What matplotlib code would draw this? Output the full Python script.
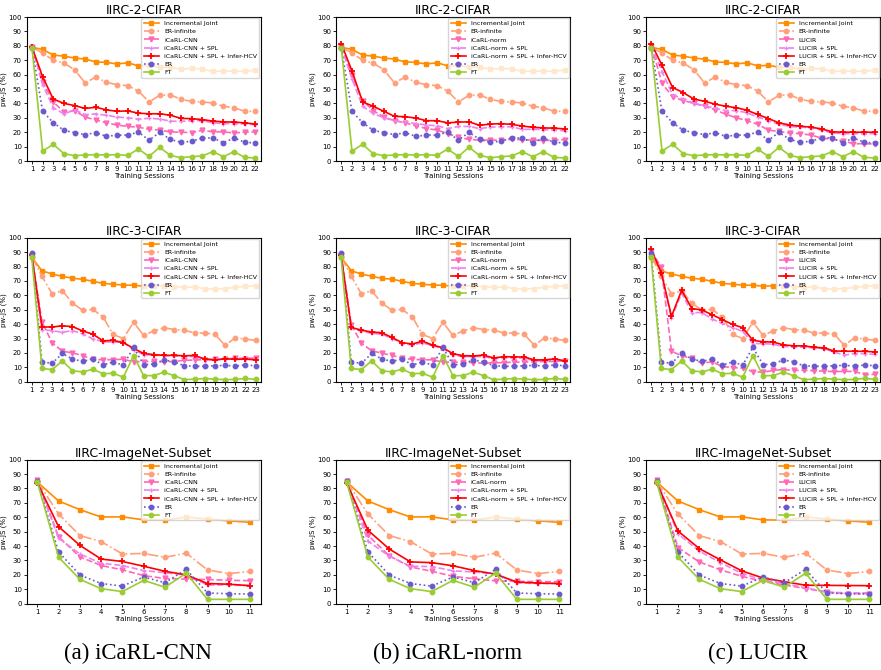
import matplotlib.pyplot as plt

# ---- data ----
# shared baselines, IIRC-2-CIFAR (22 sessions)
joint_2 = [79, 77.5, 73.6, 72.8, 71.5, 70.8, 68.8, 68.5, 67.4, 68.2, 66.1, 66.4, 65.2, 65, 63.8, 64.3, 64, 62.2, 62.5, 62.4, 62.2, 63.1]
erinf_2 = [79, 75, 70, 68, 63.4, 54.2, 58.3, 54.6, 53, 52.3, 48.6, 41, 45.6, 46, 42.8, 41.4, 41, 40.3, 38, 37, 34.5, 34.5]
er_2 = [78.5, 34.5, 26.6, 21.3, 19.7, 18.3, 19.7, 17.1, 18, 18, 20.1, 14.4, 19.9, 15, 13, 13.7, 16, 16, 12.7, 16, 13, 12.5]
ft_2 = [78.5, 6.9, 11.6, 5.1, 3.7, 4.2, 4.4, 4.2, 4.4, 3.9, 8.3, 3.2, 9.5, 3.9, 2.3, 3, 3.5, 6.5, 3, 6.5, 2.5, 2.1]

# shared baselines, IIRC-3-CIFAR (23 sessions)
joint_3 = [86.5, 77, 74.8, 73.2, 71.8, 71.2, 69.7, 68.3, 67.7, 67.1, 67, 66.3, 66.6, 66.6, 66, 65.5, 65.8, 64.6, 64.3, 64.7, 65.5, 66.2, 66.6]
erinf_3 = [87, 73.2, 61, 63.2, 54.6, 49.6, 50.2, 45, 32.8, 30, 41.3, 32.1, 35.3, 37.5, 36.2, 35.8, 33.8, 33.8, 33, 25.2, 30.5, 29.6, 28.7]
er_3 = [89.5, 13.8, 12.7, 19.6, 15.8, 14.1, 15.8, 11.6, 13.7, 11.5, 23.8, 11.8, 12.2, 15.2, 13.7, 11.1, 10.7, 10.7, 11.1, 11.3, 10.9, 11.6, 11.1]
ft_3 = [86.3, 9.2, 8.4, 14.5, 7.6, 6.8, 8.7, 5.5, 5.9, 3.1, 18.1, 4.1, 4.3, 6.6, 4.2, 1.4, 1.8, 2.2, 1.8, 1.4, 1.6, 2.3, 1.6]

# shared baselines, IIRC-ImageNet-Subset (11 sessions)
joint_in = [84.5, 71.3, 65.3, 60.2, 60.3, 58.2, 58, 60.2, 58.8, 57.5, 56.5]
erinf_in = [85, 62.3, 47.3, 43.1, 34.5, 34.9, 32.2, 35.1, 23.4, 20.9, 22.4]
er_in = [85, 36, 19.9, 14, 12.2, 18.5, 14.6, 23.8, 7.4, 6.9, 6.7]
ft_in = [84.5, 32.3, 16.9, 10.4, 8.4, 16.2, 11.4, 21.2, 3, 3, 3]

# iCaRL-CNN
cnn_2 = [79, 55, 41, 34, 35, 30.5, 28.5, 26.5, 25, 24, 23.5, 22, 21.5, 20.2, 20, 19.7, 21.3, 20.3, 20.2, 19.5, 20, 20.2]
cnn_spl_2 = [79, 53, 37, 32.7, 35.5, 32.2, 32.7, 31.8, 30.5, 30, 29, 29.7, 29.2, 27.7, 27.5, 28, 28, 26.5, 26, 26, 25.7, 25.3]
cnn_hcv_2 = [79, 58.5, 43, 40, 38.5, 36.5, 37.3, 35.5, 34.5, 34.8, 33.2, 32.8, 32.8, 31.8, 29.6, 29.4, 28.8, 27.7, 27.2, 27, 26.5, 25.7]
cnn_3 = [88, 41.5, 27.1, 21.2, 20, 18.1, 15.5, 15.2, 15.3, 15.6, 13.8, 14, 14.2, 13.8, 14, 14.9, 15, 15.4, 15.7, 15.8, 16.3, 16.1, 16.5]
cnn_spl_3 = [88, 36, 35.5, 34.3, 35.5, 33.2, 29.7, 27.8, 27.5, 27.5, 22, 18.8, 18.5, 18, 18, 17.5, 17.5, 16, 15.5, 15.5, 16, 16, 16]
cnn_hcv_3 = [88, 38, 38, 38.8, 38.3, 35.2, 33, 28.4, 28.7, 27.1, 23.2, 19.6, 18.8, 18.3, 18.3, 18, 18.2, 15.7, 15, 16, 15.5, 15.7, 15.2]
cnn_in = [86, 46.5, 32.5, 26.5, 23.5, 19.5, 17.5, 17, 16.8, 16.2, 16]
cnn_spl_in = [85, 45.5, 34.5, 28, 26.5, 23, 21.5, 20, 13, 13, 12.5]
cnn_hcv_in = [84, 53.5, 40.5, 31, 29.3, 26, 22.5, 20, 14, 13.5, 12.5]

# iCaRL-norm
norm_2 = [79, 60, 42, 35, 30.5, 28, 26.5, 24.5, 22.5, 21.5, 19, 16.5, 15, 14.5, 14.5, 14.5, 15, 14.8, 14.5, 14.2, 14.5, 14.8]
norm_spl_2 = [79, 57, 38, 33, 30, 28, 27, 26, 25, 24.5, 22.5, 24, 24, 22.5, 23.5, 23.8, 23.7, 22, 22, 21.8, 21.5, 21]
norm_hcv_2 = [81.5, 62.5, 41, 38, 34.5, 31, 30.8, 29.8, 28, 28, 26.5, 27, 27.2, 24.8, 25.6, 26, 25.4, 24.3, 23.4, 23, 22.8, 22.3]
norm_3 = [88, 39.5, 26.7, 21.5, 19.8, 18.3, 16.3, 15.5, 15.2, 15.2, 13.6, 13.6, 13.5, 13.2, 12.8, 13.2, 13.2, 13.6, 13.6, 13.8, 14, 14, 14.6]
norm_spl_3 = [88, 37.5, 35, 33.5, 33, 30, 26.5, 25.5, 27, 25, 23, 18.5, 17.5, 17.5, 17.5, 16, 16.5, 16.5, 16.5, 14.5, 14.5, 15, 14]
norm_hcv_3 = [88, 37.7, 35.8, 34.5, 34, 30.7, 27.1, 26.2, 28.1, 25.4, 23.6, 19.4, 18.1, 17.9, 18.4, 16.5, 17.4, 17.2, 17.2, 15.1, 15.2, 15.8, 14.5]
norm_in = [85, 47.5, 33.3, 25.5, 22.5, 19, 17.3, 15.8, 15.5, 15.3, 15.3]
norm_spl_in = [85, 43.5, 33, 26, 25.8, 22.8, 22, 20.5, 14.5, 14, 14]
norm_hcv_in = [84, 51, 38, 29, 28.5, 26.3, 23, 20.5, 15, 14.3, 14]

# LUCIR
lucir_2 = [80, 54, 44.5, 42, 40, 38, 35.5, 32.5, 30, 28, 25.5, 21.5, 20.5, 19.5, 19, 18, 16, 15, 14, 12, 12, 11.8]
lucir_spl_2 = [80, 62, 46, 43, 40, 38.5, 36.5, 35, 35, 33.5, 30.5, 28, 25.5, 24, 23.5, 23, 21.5, 19.5, 19, 19, 19, 19]
lucir_hcv_2 = [81.5, 66.5, 51, 47.5, 43, 41.5, 39.5, 38, 37, 35.2, 32.3, 29.5, 26.5, 25, 24.2, 23.5, 22.3, 20.3, 20, 20, 20, 20]
lucir_3 = [91, 79.5, 21.3, 17.8, 16.4, 12.8, 13.9, 10.5, 9.8, 9.4, 7, 6.5, 7.9, 8.4, 7.9, 7.9, 7.6, 7.3, 7, 7.2, 7.1, 4.9, 5.1]
lucir_spl_3 = [91, 76, 44, 61.5, 48, 48, 43.5, 40.5, 37.5, 35, 26.5, 26.5, 26, 24.5, 24, 24, 23.5, 23, 20.5, 18.5, 19.5, 19.5, 19]
lucir_hcv_3 = [92, 75.8, 45.3, 63.5, 50.8, 49.8, 46.5, 43.1, 39.8, 37.5, 28.7, 27.8, 27.5, 25.6, 24.9, 24.9, 23.9, 23.5, 21.3, 21.2, 21.1, 21.1, 20.7]
lucir_in = [86, 39, 29, 23.5, 19, 15.5, 13, 10.5, 8, 7, 7]
lucir_spl_in = [86, 48.5, 36.5, 28.5, 21, 16.5, 14, 11, 8, 7.5, 7.5]
lucir_hcv_in = [84, 50.5, 38.3, 30.4, 22.8, 17.8, 15.3, 12.8, 12.7, 12.6, 12.5]

titles = ['IIRC-2-CIFAR', 'IIRC-3-CIFAR', 'IIRC-ImageNet-Subset']
methods = ['iCaRL-CNN', 'iCaRL-norm', 'LUCIR']
captions = ['(a) iCaRL-CNN', '(b) iCaRL-norm', '(c) LUCIR']

shared = [(joint_2, erinf_2, er_2, ft_2),
          (joint_3, erinf_3, er_3, ft_3),
          (joint_in, erinf_in, er_in, ft_in)]
own = [[(cnn_2, cnn_spl_2, cnn_hcv_2), (norm_2, norm_spl_2, norm_hcv_2), (lucir_2, lucir_spl_2, lucir_hcv_2)],
       [(cnn_3, cnn_spl_3, cnn_hcv_3), (norm_3, norm_spl_3, norm_hcv_3), (lucir_3, lucir_spl_3, lucir_hcv_3)],
       [(cnn_in, cnn_spl_in, cnn_hcv_in), (norm_in, norm_spl_in, norm_hcv_in), (lucir_in, lucir_spl_in, lucir_hcv_in)]]

fig = plt.figure(figsize=(8.81, 6.70), dpi=100)

lefts = [0.0303, 0.3814, 0.7333]
bottoms = [0.7597, 0.4303, 0.0990]
w, h = 0.2656, 0.2149

for r in range(3):
    joint, erinf, er, ft = shared[r]
    for c in range(3):
        base, spl, hcv = own[r][c]
        m = methods[c]
        x = list(range(1, len(joint) + 1))
        ax = fig.add_axes([lefts[c], bottoms[r], w, h])
        ax.plot(x, joint, color='darkorange', marker='s', ms=3.2, lw=1.2, label='Incremental Joint')
        ax.plot(x, erinf, color='lightsalmon', marker='o', ms=3.2, lw=1.2, ls='-.', label='ER-infinite')
        ax.plot(x, base, color='hotpink', marker='v', ms=3.5, lw=1.2, ls='--', label=m)
        ax.plot(x, spl, color='violet', marker='+', ms=3.5, mew=1, lw=1.2, ls='--', label=m + ' + SPL')
        ax.plot(x, hcv, color='red', marker='+', ms=5, mew=1.3, lw=1.2, label=m + ' + SPL + Infer-HCV')
        ax.plot(x, er, color='slateblue', marker='o', ms=3.2, lw=1.2, ls=':', label='ER')
        ax.plot(x, ft, color='yellowgreen', marker='o', ms=3.2, lw=1.2, label='FT')

        ax.set_xlim(0.5, len(x) + 0.5)
        ax.set_ylim(0, 100)
        ax.set_xticks(x)
        ax.set_yticks(range(0, 101, 10))
        ax.tick_params(labelsize=5, length=2, width=0.6, pad=1.5)
        ax.set_title(titles[r], fontsize=9, pad=2)
        ax.set_xlabel('Training Sessions', fontsize=5, labelpad=1)
        ax.set_ylabel('pw-JS (%)', fontsize=5, labelpad=1)
        ax.legend(loc='upper right', fontsize=4.5, handlelength=2.4, borderaxespad=0.2,
                  labelspacing=0.45, borderpad=0.4)

for c in range(3):
    fig.text(lefts[c] + w / 2 - 0.006, 0.024, captions[c], ha='center', va='center',
             fontsize=16.5, family='Liberation Serif')

fig.savefig('out.png', dpi=100)
